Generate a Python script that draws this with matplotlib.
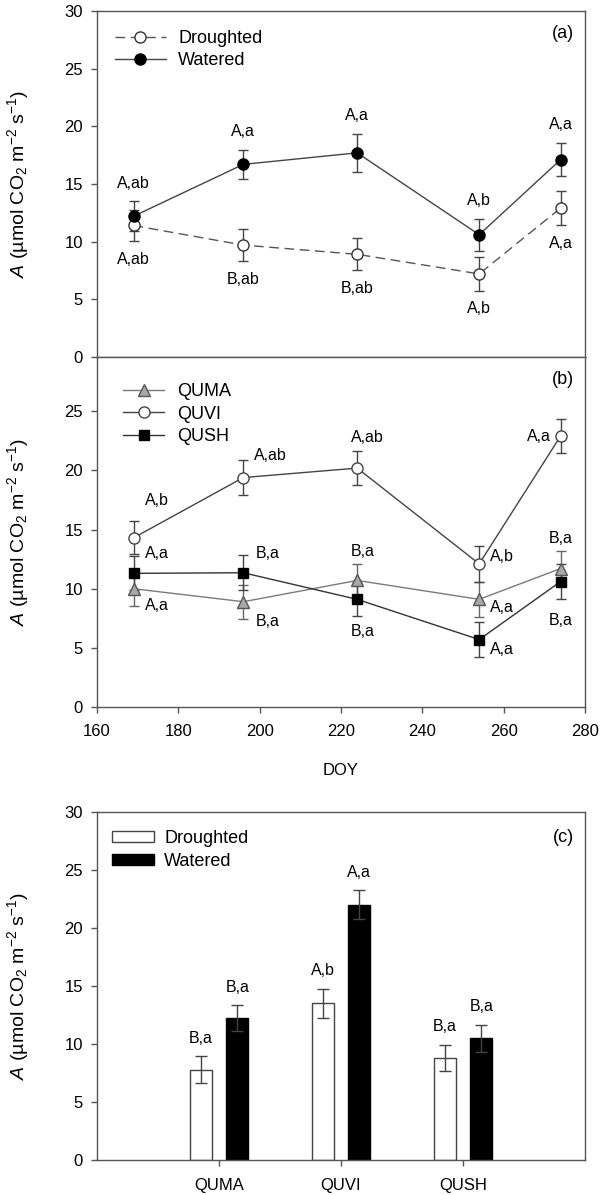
import numpy as np
import matplotlib
matplotlib.use("Agg")
import matplotlib.pyplot as plt
from matplotlib.patches import Patch
from matplotlib.lines import Line2D

plt.rcParams['font.family'] = ['Liberation Sans', 'DejaVu Sans']
plt.rcParams['mathtext.fontset'] = 'custom'
plt.rcParams['mathtext.rm'] = 'Liberation Sans'
plt.rcParams['mathtext.it'] = 'Liberation Sans:italic'

# sampling days
doy = [169, 196, 224, 254, 274]

# (a) treatment means and SE
a_drought = [11.4, 9.7, 8.9, 7.2, 12.9]
a_drought_se = [1.35, 1.38, 1.4, 1.45, 1.5]
a_water = [12.2, 16.7, 17.7, 10.6, 17.1]
a_water_se = [1.3, 1.27, 1.65, 1.38, 1.45]
a_drought_lab = ["A,ab", "B,ab", "B,ab", "A,b", "A,a"]
a_water_lab = ["A,ab", "A,a", "A,a", "A,b", "A,a"]

# (b) species means and SE
quma = [10.0, 8.9, 10.7, 9.1, 11.7]
quma_se = [1.5, 1.45, 1.4, 1.45, 1.45]
quvi = [14.3, 19.4, 20.2, 12.1, 22.9]
quvi_se = [1.4, 1.48, 1.45, 1.5, 1.45]
qush = [11.3, 11.35, 9.1, 5.7, 10.6]
qush_se = [1.45, 1.5, 1.42, 1.47, 1.45]
quma_lab = ["A,a", "B,a", "B,a", "A,a", "B,a"]
quvi_lab = ["A,b", "A,ab", "A,ab", "A,b", "A,a"]
qush_lab = ["A,a", "B,a", "B,a", "A,a", "B,a"]

# (c) species x treatment
species = ["QUMA", "QUVI", "QUSH"]
c_drought = [7.8, 13.5, 8.8]
c_drought_se = [1.15, 1.25, 1.12]
c_water = [12.2, 22.0, 10.5]
c_water_se = [1.12, 1.24, 1.15]
c_drought_lab = ["B,a", "A,b", "B,a"]
c_water_lab = ["B,a", "A,a", "B,a"]

ylab = r'$\mathit{A}$ (µmol CO$_2$ m$^{-2}$ s$^{-1}$)'
spine_col = '#555555'
err_col = '#444444'
fs = 12
leg_fs = 13
lab_fs = 11.5

fig = plt.figure(figsize=(6.02, 11.95), dpi=100)
ax_a = fig.add_axes([0.161, 0.7013, 0.8106, 0.2895])
ax_b = fig.add_axes([0.161, 0.4084, 0.8106, 0.2929])
ax_c = fig.add_axes([0.161, 0.0293, 0.8106, 0.2912])


def style(ax):
    for s in ax.spines.values():
        s.set_color(spine_col)
        s.set_linewidth(1.0)
    ax.tick_params(direction='out', length=4, width=1, color=spine_col,
                   labelsize=fs, pad=6)
    ax.set_ylabel(ylab, fontsize=14)
    ax.yaxis.set_label_coords(-0.135, 0.5)


# ---- panel (a)
style(ax_a)
drought_kw = dict(ls=(0, (7, 4)), color='#555555', marker='o', mfc='white',
                  mec='#333333', ms=8, lw=1)
water_kw = dict(ls='-', color='#444444', marker='o', mfc='black',
                mec='black', ms=8, lw=1)
ax_a.errorbar(doy, a_drought, yerr=a_drought_se, ecolor=err_col,
              elinewidth=1, capsize=3.6, **drought_kw)
ax_a.errorbar(doy, a_water, yerr=a_water_se, ecolor=err_col,
              elinewidth=1, capsize=3.6, **water_kw)
for x, y, e, t in zip(doy, a_water, a_water_se, a_water_lab):
    ax_a.annotate(t, (x, y + e), xytext=(0, 13), textcoords='offset points',
                  ha='center', va='center', fontsize=lab_fs)
for x, y, e, t in zip(doy, a_drought, a_drought_se, a_drought_lab):
    ax_a.annotate(t, (x, y - e), xytext=(0, -13), textcoords='offset points',
                  ha='center', va='center', fontsize=lab_fs)
ax_a.set_xlim(160, 280)
ax_a.set_ylim(0, 30)
ax_a.set_yticks(range(0, 31, 5))
ax_a.tick_params(axis='x', bottom=False, labelbottom=False)
ax_a.text(0.955, 0.935, '(a)', transform=ax_a.transAxes, ha='center',
          va='center', fontsize=leg_fs)
ax_a.legend(handles=[Line2D([], [], label='Droughted', **drought_kw),
                     Line2D([], [], label='Watered', **water_kw)],
            loc='upper left', bbox_to_anchor=(0.037, 0.945), frameon=False,
            fontsize=leg_fs, borderpad=0, borderaxespad=0, handlelength=2.8,
            handletextpad=0.7, labelspacing=0.3)

# ---- panel (b)
style(ax_b)
quma_kw = dict(ls='-', color='#7a7a7a', marker='^', mfc='#a8a8a8',
               mec='#555555', ms=8, lw=1)
quvi_kw = dict(ls='-', color='#444444', marker='o', mfc='white',
               mec='#444444', ms=8, lw=1)
qush_kw = dict(ls='-', color='#333333', marker='s', mfc='black',
               mec='black', ms=7, lw=1)
ax_b.errorbar(doy, quma, yerr=quma_se, ecolor='#666666', elinewidth=1,
              capsize=3.6, zorder=3, **quma_kw)
ax_b.errorbar(doy, quvi, yerr=quvi_se, ecolor=err_col, elinewidth=1,
              capsize=3.6, zorder=3, **quvi_kw)
ax_b.errorbar(doy, qush, yerr=qush_se, ecolor=err_col, elinewidth=1,
              capsize=3.6, zorder=3, **qush_kw)

# label offsets (points) and alignment for each day
quvi_off = [(8, 27, 'left'), (8, 16, 'left'), (7, 22, 'center'),
            (8, 5, 'left'), (-7, 0, 'right')]
quma_off = [(8, -12, 'left'), (9, -14, 'left'), (4, 21, 'center'),
            (8, -6, 'left'), (0, 22, 'center')]
qush_off = [(8, 14, 'left'), (9, 14, 'left'), (4, -23, 'center'),
            (8, -7, 'left'), (0, -28, 'center')]
for vals, labs, offs in ((quvi, quvi_lab, quvi_off), (quma, quma_lab, quma_off),
                         (qush, qush_lab, qush_off)):
    for x, y, t, (dx, dy, ha) in zip(doy, vals, labs, offs):
        ax_b.annotate(t, (x, y), xytext=(dx, dy), textcoords='offset points',
                      ha=ha, va='center', fontsize=lab_fs)
ax_b.set_xlim(160, 280)
ax_b.set_ylim(0, 29.6)
ax_b.set_yticks(range(0, 26, 5))
ax_b.set_xticks(range(160, 281, 20))
ax_b.tick_params(axis='x', pad=8)
ax_b.set_xlabel('DOY', fontsize=fs)
ax_b.xaxis.set_label_coords(0.5, -0.16)
ax_b.text(0.955, 0.935, '(b)', transform=ax_b.transAxes, ha='center',
          va='center', fontsize=leg_fs)
ax_b.legend(handles=[Line2D([], [], label='QUMA', **quma_kw),
                     Line2D([], [], label='QUVI', **quvi_kw),
                     Line2D([], [], label='QUSH', **qush_kw)],
            loc='upper left', bbox_to_anchor=(0.053, 0.925), frameon=False,
            fontsize=leg_fs, borderpad=0, borderaxespad=0, handlelength=2.3,
            handletextpad=0.7, labelspacing=0.3)

# ---- panel (c)
style(ax_c)
pos = np.arange(1, len(species) + 1)
w = 0.18
ax_c.bar(pos - 0.15, c_drought, w, color='white', edgecolor='#444444', lw=1)
ax_c.bar(pos + 0.15, c_water, w, color='black', edgecolor='black', lw=1)
ax_c.errorbar(pos - 0.15, c_drought, yerr=c_drought_se, fmt='none',
              ecolor=err_col, elinewidth=1, capsize=4)
ax_c.errorbar(pos + 0.15, c_water, yerr=c_water_se, fmt='none',
              ecolor=err_col, elinewidth=1, capsize=4)
for x, y, e, t in zip(pos - 0.15, c_drought, c_drought_se, c_drought_lab):
    ax_c.annotate(t, (x, y + e), xytext=(0, 13), textcoords='offset points',
                  ha='center', va='center', fontsize=lab_fs)
for x, y, e, t in zip(pos + 0.15, c_water, c_water_se, c_water_lab):
    ax_c.annotate(t, (x, y + e), xytext=(0, 13), textcoords='offset points',
                  ha='center', va='center', fontsize=lab_fs)
ax_c.set_xlim(0, 4)
ax_c.set_ylim(0, 30)
ax_c.set_yticks(range(0, 31, 5))
ax_c.set_xticks(pos)
ax_c.set_xticklabels(species)
ax_c.tick_params(axis='x', pad=9)
ax_c.text(0.955, 0.928, '(c)', transform=ax_c.transAxes, ha='center',
          va='center', fontsize=leg_fs)
ax_c.legend(handles=[Patch(facecolor='white', edgecolor='#444444', label='Droughted'),
                     Patch(facecolor='black', edgecolor='black', label='Watered')],
            loc='upper left', bbox_to_anchor=(0.031, 0.948), frameon=False,
            fontsize=leg_fs, borderpad=0, borderaxespad=0, handlelength=2.3,
            handleheight=0.55, handletextpad=0.6, labelspacing=0.3)

fig.savefig('out.png', dpi=100)
